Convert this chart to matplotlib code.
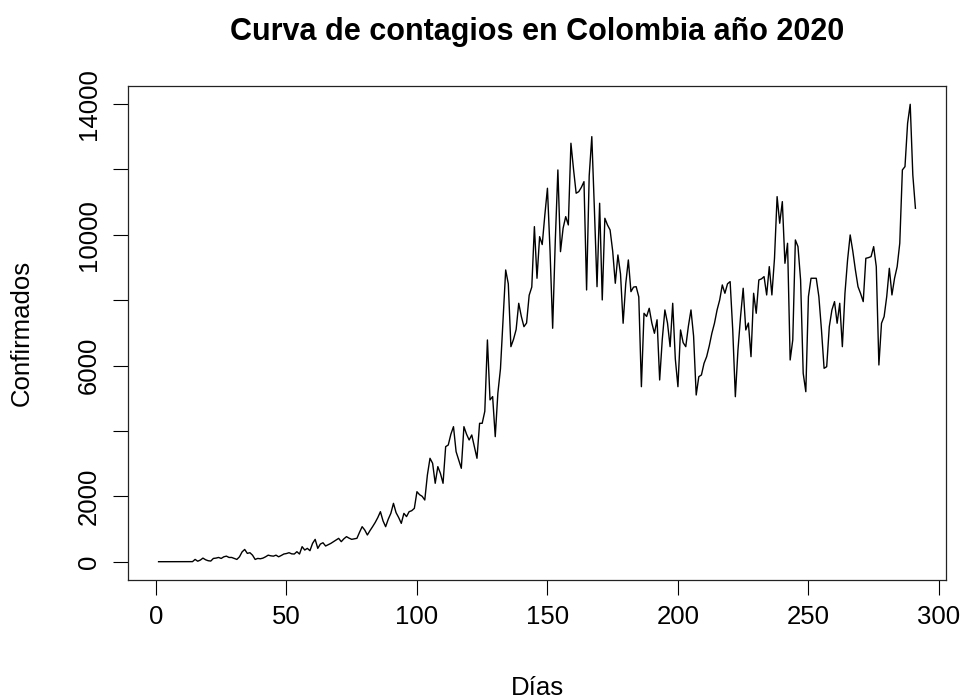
import matplotlib
matplotlib.use("Agg")
import matplotlib.pyplot as plt
import numpy as np

plt.rcParams['font.family'] = ['Liberation Sans', 'DejaVu Sans']

# Daily confirmed COVID-19 cases in Colombia, 2020 (day index starting at 1)
casos = [
    0, 0, 0, 1, 0, 0, 1, 0, 2, 0,
    1, 0, 3, 2, 70, 15, 50, 110, 60, 30,
    20, 100, 110, 130, 100, 150, 170, 130, 130, 100,
    70, 150, 300, 375, 255, 275, 200, 70, 100, 90,
    110, 150, 200, 180, 170, 200, 150, 190, 235, 250,
    275, 240, 235, 306, 235, 460, 357, 408, 337, 560,
    683, 408, 540, 580, 480, 520, 560, 610, 663, 714,
    613, 700, 766, 720, 684, 700, 715, 900, 1071, 969,
    817, 950, 1071, 1200, 1350, 1530, 1250, 1071, 1300, 1479,
    1785, 1500, 1350, 1173, 1479, 1380, 1530, 1560, 1632, 2141,
    2050, 2000, 1887, 2652, 3163, 3010, 2398, 2908, 2700, 2398,
    3519, 3570, 3900, 4130, 3366, 3112, 2857, 4130, 3900, 3723,
    3876, 3519, 3163, 4233, 4233, 4600, 6782, 4950, 5050, 3825,
    5150, 5900, 7400, 8923, 8500, 6577, 6800, 7100, 7904, 7500,
    7189, 7300, 8150, 8400, 10248, 8669, 9942, 9700, 10600, 11422,
    9500, 7140, 9800, 11982, 9483, 10200, 10554, 10300, 12799, 12000,
    11270, 11318, 11450, 11624, 8311, 11800, 13001, 10759, 8412, 10963,
    8006, 10504, 10300, 10147, 9500, 8516, 9382, 8800, 7293, 8500,
    9229, 8260, 8400, 8412, 8100, 5353, 7598, 7500, 7751, 7300,
    6986, 7400, 5558, 6800, 7700, 7300, 6577, 7904, 6200, 5353,
    7088, 6700, 6577, 7200, 7700, 6900, 5099, 5659, 5711, 6067,
    6271, 6600, 6986, 7293, 7700, 8006, 8465, 8210, 8500, 8567,
    7088, 5047, 6476, 7500, 8363, 7088, 7300, 6271, 8210, 7598,
    8618, 8650, 8720, 8159, 9025, 8159, 9280, 11166, 10352, 11013,
    9127, 9739, 6170, 6782, 9841, 9637, 8618, 5762, 5200, 8108,
    8669, 8669, 8669, 8108, 7088, 5915, 5965, 7189, 7700, 7955,
    7293, 7904, 6577, 8210, 9229, 9994, 9500, 8923, 8412, 8200,
    7955, 9280, 9300, 9331, 9637, 9025, 6017, 7293, 7496, 8108,
    8974, 8159, 8669, 9025, 9739, 11982, 12084, 13410, 13990, 11830,
    10810,
]
dias = np.arange(1, len(casos) + 1)

x_ticks = [0, 50, 100, 150, 200, 250, 300]
y_ticks = [0, 2000, 6000, 10000, 14000]
y_tick_marks = [0, 2000, 4000, 6000, 8000, 10000, 12000, 14000]

W, H = 963, 700
fig = plt.figure(figsize=(W / 100, H / 100), dpi=100)
ax = fig.add_axes([128.3 / W, 1 - 580 / H, (945.7 - 128.3) / W, (580 - 86) / H])

ax.plot(dias, casos, color='black', linewidth=1.0)

# R-style 4% padding on both axes
n = len(casos)
xr = n - 1
ax.set_xlim(1 - 0.04 * xr, n + 0.04 * xr)
ymin, ymax = 0, max(casos)
yr = ymax - ymin
ax.set_ylim(ymin - 0.04 * yr, ymax + 0.04 * yr)

ax.set_xticks(x_ticks)
ax.set_xticklabels([str(t) for t in x_ticks])
ax.set_yticks(y_tick_marks)
ax.set_yticklabels([str(t) if t in y_ticks else '' for t in y_tick_marks],
                   rotation=90, va='center')

ax.tick_params(axis='both', direction='out', length=10.8, width=0.8,
               labelsize=18.5, colors='black')
ax.tick_params(axis='x', pad=7)
ax.tick_params(axis='y', pad=9)
for s in ax.spines.values():
    s.set_linewidth(0.9)
    s.set_color('#222222')

fig.text(537 / W, 1 - 32 / H, 'Curva de contagios en Colombia año 2020',
         ha='center', va='center', fontsize=22, fontweight='bold')
fig.text(537 / W, 1 - 688 / H, 'Días', ha='center', va='center', fontsize=18.5)
fig.text(22 / W, 1 - 333 / H, 'Confirmados', ha='center', va='center',
         rotation=90, fontsize=18.5)

fig.savefig('out.png', dpi=100, facecolor='white')
